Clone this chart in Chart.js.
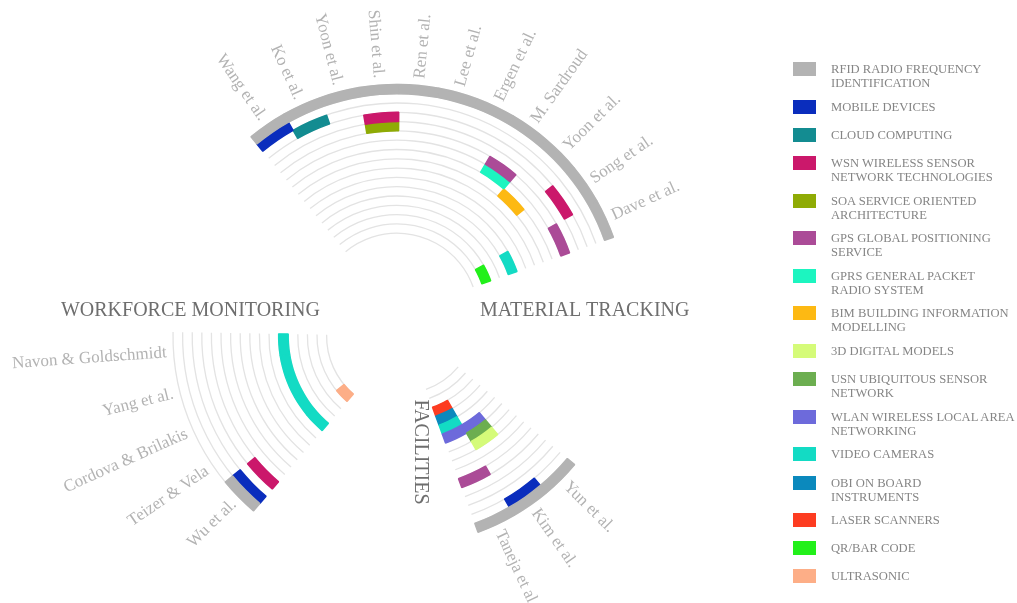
<!DOCTYPE html>
<html>
<head>
<meta charset="utf-8">
<script src="https://cdn.jsdelivr.net/npm/chart.js@4.4.0/dist/chart.umd.min.js"></script>
<style>
  html, body { margin: 0; padding: 0; background: #fff; }
  #wrap { position: relative; width: 1017px; height: 603px; overflow: hidden; }
  #wrap canvas { position: absolute; left: 0; top: 0; }
  #legend { position: absolute; left: 793px; top: 62px; font-family: 'Liberation Serif', serif; font-size: 12.6px; color: #858585; }
  .item { display: flex; align-items: flex-start; height: 28.2px; }
  .item.two { height: 37.6px; }
  .box { width: 23px; height: 14px; margin-right: 15px; flex: none; }
  .txt { line-height: 14px; white-space: pre; }
</style>
</head>
<body>
<div id="wrap">
  <canvas id="material" width="1017" height="603"></canvas>
  <canvas id="facilities" width="1017" height="603"></canvas>
  <canvas id="workforce" width="1017" height="603"></canvas>
  <div id="legend"></div>
</div>
<script>
// Technologies (one ring each, outermost first)
const techKeys = ['RFID', 'Mobile', 'Cloud', 'WSN', 'SOA', 'GPS', 'GPRS', 'BIM', '3D', 'USN', 'WLAN', 'Video', 'OBI', 'Laser', 'QR', 'Ultrasonic'];
const techNames = [
    'RFID RADIO FREQUENCY\nIDENTIFICATION', 'MOBILE DEVICES', 'CLOUD COMPUTING',
    'WSN WIRELESS SENSOR\nNETWORK TECHNOLOGIES', 'SOA SERVICE ORIENTED\nARCHITECTURE',
    'GPS GLOBAL POSITIONING\nSERVICE', 'GPRS GENERAL PACKET\nRADIO SYSTEM',
    'BIM BUILDING INFORMATION\nMODELLING', '3D DIGITAL MODELS', 'USN UBIQUITOUS SENSOR\nNETWORK',
    'WLAN WIRELESS LOCAL AREA\nNETWORKING', 'VIDEO CAMERAS', 'OBI ON BOARD\nINSTRUMENTS',
    'LASER SCANNERS', 'QR/BAR CODE', 'ULTRASONIC'
];
const techColors = ['#b3b3b3', '#0a2dbd', '#138c91', '#cb186b', '#8fab05', '#ab4b97', '#1cf5c0', '#fdb913',
    '#d5fb79', '#6cae50', '#6d6adb', '#13dbc4', '#0b89bd', '#fd3c21', '#22f01a', '#fdae87'];

// Papers per application area (clockwise) and the technologies each one uses
const materialPapers = ['Wang et al.', 'Ko et al.', 'Yoon et al.', 'Shin et al.', 'Ren et al.', 'Lee et al.',
    'Ergen et al.', 'M. Sardroud', 'Yoon et al.', 'Song et al.', 'Dave et al.'];
const materialTech = [['RFID', 'Mobile'], ['RFID', 'Cloud'], ['RFID'], ['RFID', 'WSN', 'SOA'], ['RFID'], ['RFID'],
    ['RFID'], ['RFID', 'GPS', 'GPRS'], ['RFID', 'BIM'], ['RFID', 'WSN'], ['RFID', 'GPS', 'Video', 'QR']];

const facilitiesPapers = ['Yun et al.', 'Kim et al.', 'Taneja et al.'];
const facilitiesTech = [['RFID'], ['RFID', 'Mobile', '3D', 'USN', 'WLAN'], ['RFID', 'GPS', 'WLAN', 'Video', 'OBI', 'Laser']];

const workforcePapers = ['Wu et al.', 'Teizer & Vela', 'Cordova & Brilakis', 'Yang et al.', 'Navon & Goldschmidt'];
const workforceTech = [['RFID', 'Mobile', 'WSN', 'Video', 'Ultrasonic'], ['Video'], ['Video'], ['Video'], ['Video']];

const W = 1017, H = 603;
const FONT = "'Liberation Serif', 'Times New Roman', serif";

// thin track arcs, paper names and area title
const ringsPlugin = {
    id: 'rings',
    beforeDatasetsDraw(chart, args, opts) {
        const ctx = chart.ctx;
        const metas = chart.getSortedVisibleDatasetMetas();
        const first = metas[0].data[0];
        const last = metas[0].data[opts.count - 1];
        const radii = metas.map(m => m.data[0].outerRadius);
        radii.push(metas[metas.length - 1].data[0].innerRadius);
        ctx.save();
        ctx.strokeStyle = '#e3e3e3';
        ctx.lineWidth = 1.3;
        radii.forEach(r => {
            ctx.beginPath();
            ctx.arc(first.x, first.y, r, first.startAngle, last.endAngle);
            ctx.stroke();
        });
        ctx.restore();
    },
    afterDatasetsDraw(chart, args, opts) {
        const ctx = chart.ctx;
        const meta = chart.getDatasetMeta(0);
        ctx.save();
        ctx.font = '17px ' + FONT;
        ctx.fillStyle = '#b3b3b3';
        ctx.textBaseline = 'middle';
        chart.data.labels.slice(0, opts.count).forEach((name, i) => {
            const el = meta.data[i];
            const a = (el.startAngle + el.endAngle) / 2;
            const r = el.outerRadius + 7;
            ctx.save();
            ctx.translate(el.x + r * Math.cos(a), el.y + r * Math.sin(a));
            if (Math.cos(a) >= 0) {
                ctx.rotate(a);
                ctx.textAlign = 'left';
            } else {
                ctx.rotate(a + Math.PI);
                ctx.textAlign = 'right';
            }
            ctx.fillText(name, 0, 0);
            ctx.restore();
        });
        // area title
        const t = opts.title;
        const c = meta.data[0];
        ctx.font = '20px ' + FONT;
        ctx.fillStyle = '#6e6e6e';
        ctx.translate(c.x + t.dx, c.y + t.dy);
        ctx.rotate(t.rot);
        ctx.textAlign = t.align;
        ctx.fillText(t.text, 0, 0);
        ctx.restore();
    }
};

function drawArea(id, papers, techs, g, title) {
    const n = papers.length;
    const rIn = g.rOut - g.step * techKeys.length;
    const none = 'rgba(0,0,0,0)';
    new Chart(document.getElementById(id), {
        type: 'doughnut',
        data: {
            labels: [...papers, ''],
            datasets: techKeys.map((key, t) => {
                const colors = [...techs.map(list => list.includes(key) ? techColors[t] : none), none];
                return {
                    label: key,
                    data: [...papers.map(() => g.slot), 360 - n * g.slot],
                    backgroundColor: colors,
                    borderColor: colors,
                    borderWidth: 1.4,
                    hoverOffset: 0
                };
            })
        },
        options: {
            responsive: false,
            animation: false,
            rotation: g.start + 90,
            radius: g.rOut,
            cutout: (rIn / g.rOut * 100) + '%',
            layout: { padding: { left: g.cx - g.rOut, right: W - g.cx - g.rOut, top: g.cy - g.rOut, bottom: H - g.cy - g.rOut } },
            plugins: {
                legend: { display: false },
                tooltip: { enabled: false },
                rings: { count: n, title: title }
            }
        },
        plugins: [ringsPlugin]
    });
}

drawArea('material', materialPapers, materialTech,
    { cx: 397, cy: 314, rOut: 229.6, step: 9.3, start: -129.5, slot: 10 },
    { text: 'MATERIAL TRACKING', dx: 83, dy: -3, rot: 0, align: 'left' });
drawArea('facilities', facilitiesPapers, facilitiesTech,
    { cx: 400, cy: 318, rOut: 228, step: 9.5, start: 40, slot: 10 },
    { text: 'FACILITIES', dx: 20, dy: 134, rot: Math.PI / 2, align: 'center' });
drawArea('workforce', workforcePapers, workforceTech,
    { cx: 403, cy: 336, rOut: 230, step: 9.6, start: 130.5, slot: 10.1 },
    { text: 'WORKFORCE MONITORING', dx: -83, dy: -25, rot: 0, align: 'right' });

// legend
const legend = document.getElementById('legend');
techNames.forEach((name, i) => {
    const item = document.createElement('div');
    item.className = 'item' + (name.includes('\n') ? ' two' : '');
    const box = document.createElement('div');
    box.className = 'box';
    box.style.background = techColors[i];
    const txt = document.createElement('div');
    txt.className = 'txt';
    txt.textContent = name;
    item.appendChild(box);
    item.appendChild(txt);
    legend.appendChild(item);
});
</script>
</body>
</html>
